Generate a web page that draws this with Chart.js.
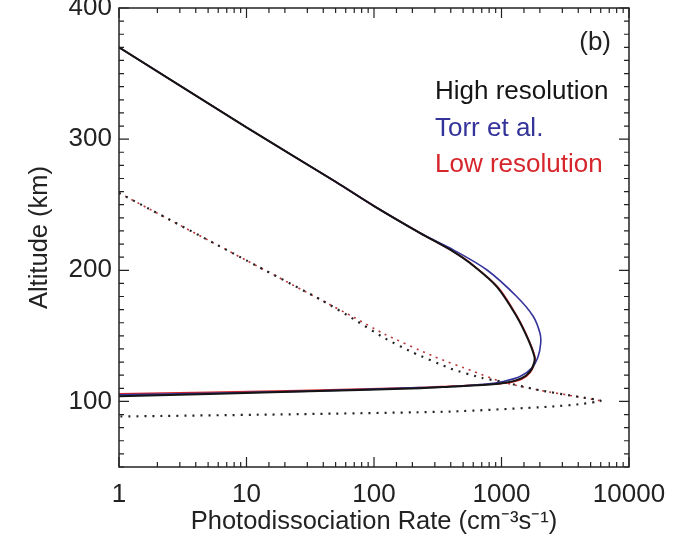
<!DOCTYPE html>
<html lang="en">
<head>
    <meta charset="UTF-8">
    <title>Photodissociation Rate</title>
    <style>
        body {
            margin: 0;
            background: #fff;
        }
        #chart-box {
            width: 692px;
            height: 537px;
        }
    </style>
</head>
<body>
    <div id="chart-box">
        <canvas id="myChart" width="692" height="537"></canvas>
    </div>

    <script src="https://cdn.jsdelivr.net/npm/chart.js@4.4.1/dist/chart.umd.min.js"></script>

    <script>
        // Values (rate in cm^-3 s^-1, altitude in km)
        var rateHigh = [1, 10, 50, 100, 230, 419, 566, 917, 1315, 1623, 1811, 1799, 1674, 1440, 1097, 765, 419, 230, 26, 1];
        var altHigh  = [370, 309, 267.5, 249, 228.4, 214.3, 205.5, 187.6, 164.8, 147, 134.2, 129.2, 122.8, 117.8, 114.4, 112.7, 111.4, 110.1, 107.5, 104];

        var rateTorr = [1, 10, 50, 100, 230, 419, 765, 1315, 1776, 2004, 2030, 1937, 1728, 1396, 1033, 765, 419, 230, 26, 1];
        var altTorr  = [370, 309, 267.5, 249, 228.4, 215.6, 200.4, 180, 164.8, 152, 144.4, 134.2, 125.4, 119, 115.2, 113.2, 111.4, 110.5, 107.7, 105];

        var rateLow = [1, 10, 50, 100, 230, 419, 580, 940, 1340, 1650, 1830, 1810, 1680, 1450, 1100, 765, 419, 230, 26, 1];
        var altLow  = [370, 309, 267.5, 249, 228.4, 214.3, 205, 187, 164, 146, 133.5, 128.5, 122, 117, 114, 112.9, 111.8, 110.6, 108.3, 105.8];

        // dotted profiles
        var rateDotHigh = [1, 10, 40, 70, 120, 200, 400, 700, 1000, 2000, 4000, 6000, 4200, 2400, 400, 26, 1];
        var altDotHigh  = [259, 207.5, 176.5, 162.5, 148.5, 137.5, 125, 118, 115, 108.5, 103.5, 100.5, 98, 96, 92.3, 90.3, 88.5];

        var rateDotLow = [1, 10, 40, 70, 120, 300, 600, 1000, 2000, 4000, 6000];
        var altDotLow  = [259, 207.5, 176.5, 164, 151.5, 134, 123, 115, 108.5, 103.5, 100.5];

        var xTickLabels = [1, 10, 100, 1000, 10000];
        var yTickLabels = [100, 200, 300, 400];

        var legendNames = ['High resolution', 'Torr et al.', 'Low resolution'];
        var panelLabel = '(b)';

        var FONT = '"Liberation Sans", Arial, Helvetica, sans-serif';

        function toPoints(xs, ys) {
            return xs.map(function (x, i) { return { x: x, y: ys[i] }; });
        }

        // inward ticks, frame and the text legend
        var framePlugin = {
            id: 'frame',
            afterDraw: function (chart) {
                var ctx = chart.ctx;
                var area = chart.chartArea;
                var xs = chart.scales.x;
                var ys = chart.scales.y;
                ctx.save();
                ctx.strokeStyle = '#222';
                ctx.lineWidth = 1.5;
                ctx.strokeRect(area.left, area.top, area.right - area.left, area.bottom - area.top);

                ctx.lineWidth = 1.2;
                ctx.beginPath();
                xs.ticks.forEach(function (t) {
                    var px = xs.getPixelForValue(t.value);
                    if (px < area.left - 0.5 || px > area.right + 0.5) return;
                    var major = xTickLabels.indexOf(t.value) >= 0;
                    var len = major ? 10 : 5;
                    ctx.moveTo(px, area.bottom); ctx.lineTo(px, area.bottom - len);
                    ctx.moveTo(px, area.top); ctx.lineTo(px, area.top + len);
                });
                ys.ticks.forEach(function (t) {
                    var py = ys.getPixelForValue(t.value);
                    var major = yTickLabels.indexOf(t.value) >= 0;
                    var len = major ? 10 : 5;
                    ctx.moveTo(area.left, py); ctx.lineTo(area.left + len, py);
                    ctx.moveTo(area.right, py); ctx.lineTo(area.right - len, py);
                });
                ctx.stroke();

                ctx.font = '26px ' + FONT;
                ctx.textBaseline = 'middle';
                ctx.textAlign = 'right';
                ctx.fillStyle = '#222';
                ctx.fillText(panelLabel, 611, 43);

                ctx.textAlign = 'left';
                legendNames.forEach(function (name, i) {
                    ctx.fillStyle = chart.data.datasets[i].borderColor;
                    ctx.fillText(name, 435, 92 + i * 36.5);
                });
                ctx.restore();
            }
        };

        var ctx = document.getElementById('myChart').getContext('2d');

        var myChart = new Chart(ctx, {
            type: 'scatter',
            data: {
                datasets: [
                    {
                        label: legendNames[0],
                        data: toPoints(rateHigh, altHigh),
                        borderColor: '#151515',
                        borderWidth: 2,
                        tension: 0.3
                    },
                    {
                        label: legendNames[1],
                        data: toPoints(rateTorr, altTorr),
                        borderColor: '#33339a',
                        borderWidth: 1.6,
                        tension: 0.3
                    },
                    {
                        label: legendNames[2],
                        data: toPoints(rateLow, altLow),
                        borderColor: '#d6262c',
                        borderWidth: 1.6,
                        tension: 0.3
                    },
                    {
                        label: 'High resolution (dotted)',
                        data: toPoints(rateDotHigh, altDotHigh),
                        borderColor: '#222',
                        borderWidth: 2.2,
                        borderDash: [2, 6],
                        tension: 0.2
                    },
                    {
                        label: 'Low resolution (dotted)',
                        data: toPoints(rateDotLow, altDotLow),
                        borderColor: '#b8363a',
                        borderWidth: 1.6,
                        borderDash: [2, 5],
                        tension: 0.2
                    }
                ]
            },
            options: {
                responsive: false,
                animation: false,
                showLine: true,
                elements: {
                    point: { radius: 0, hoverRadius: 0 }
                },
                layout: {
                    padding: { left: 0, right: 63, top: 8, bottom: 0 }
                },
                plugins: {
                    legend: { display: false },
                    tooltip: { enabled: false }
                },
                scales: {
                    x: {
                        type: 'logarithmic',
                        min: 1,
                        max: 10000,
                        grid: { display: true, drawOnChartArea: false, drawTicks: false },
                        border: { display: false },
                        ticks: {
                            autoSkip: false,
                            maxRotation: 0,
                            padding: 12,
                            color: '#222',
                            font: { family: FONT, size: 26 },
                            callback: function (v) {
                                return xTickLabels.indexOf(v) >= 0 ? String(v) : '';
                            }
                        },
                        title: {
                            display: true,
                            text: 'Photodissociation Rate (cm\u207B\u00B3s\u207B\u00B9)',
                            color: '#222',
                            font: { family: FONT, size: 25.5 },
                            padding: { top: 0, bottom: 0 }
                        },
                        afterFit: function (scale) {
                            scale.height = 70;
                        }
                    },
                    y: {
                        min: 50,
                        max: 400,
                        grid: { display: true, drawOnChartArea: false, drawTicks: false },
                        border: { display: false },
                        ticks: {
                            stepSize: 10,
                            autoSkip: false,
                            padding: 7,
                            color: '#222',
                            font: { family: FONT, size: 26 },
                            callback: function (v) {
                                return yTickLabels.indexOf(v) >= 0 ? String(v) : '';
                            }
                        },
                        title: {
                            display: true,
                            text: 'Altitude (km)',
                            color: '#222',
                            font: { family: FONT, size: 25.5 },
                            padding: { top: 25, bottom: 0 }
                        },
                        afterFit: function (scale) {
                            scale.width = 119;
                            scale.paddingTop = 0;
                            scale.paddingBottom = 0;
                        }
                    }
                }
            },
            plugins: [framePlugin]
        });
    </script>
</body>
</html>
